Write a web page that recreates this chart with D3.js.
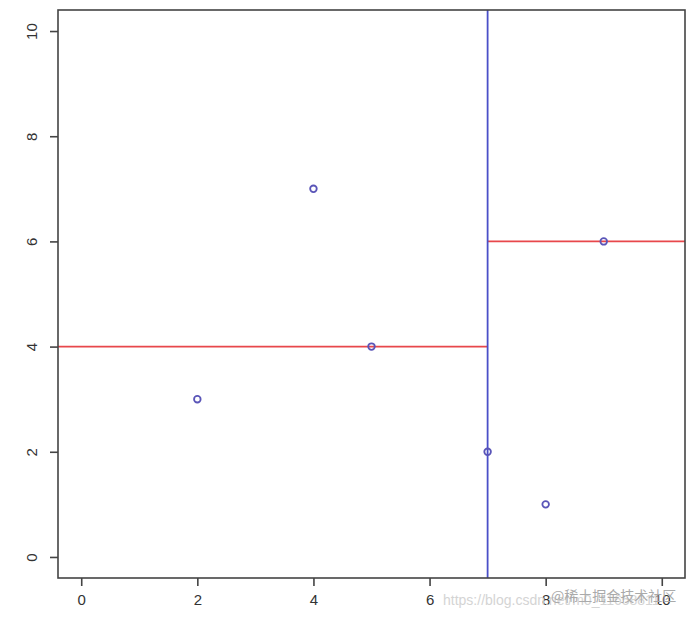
<!DOCTYPE html>
<html>
<head>
<meta charset="utf-8">
<script src="https://cdn.jsdelivr.net/npm/d3@7/dist/d3.min.js"></script>
<style>
  body { margin: 0; background: #fff; }
  svg { display: block; }
</style>
</head>
<body>
<div id="chart"></div>
<script>
// kd-tree points and splits
var pointsX = [2, 4, 5, 7, 8, 9];
var pointsY = [3, 7, 4, 2, 1, 6];
var xTicks = [0, 2, 4, 6, 8, 10];
var yTicks = [0, 2, 4, 6, 8, 10];
// split lines: [x1, x2, y1, y2]
var vSplitX = [7];
var hSplitY = [4, 6];
var hSplitFrom = [-0.4, 7];
var hSplitTo = [7, 10.4];

var width = 700, height = 621;
var svg = d3.select('#chart').append('svg')
  .attr('width', width)
  .attr('height', height);

var x = d3.scaleLinear().domain([-0.4, 10.4]).range([58, 685]);
var y = d3.scaleLinear().domain([-0.4, 10.4]).range([578, 10]);

var axisColor = '#444';

// horizontal splits (red)
svg.selectAll('line.hsplit')
  .data(hSplitY)
  .enter().append('line')
  .attr('class', 'hsplit')
  .attr('x1', function (d, i) { return x(hSplitFrom[i]); })
  .attr('x2', function (d, i) { return x(hSplitTo[i]); })
  .attr('y1', function (d) { return y(d); })
  .attr('y2', function (d) { return y(d); })
  .attr('stroke', '#e8474b')
  .attr('stroke-width', 1.8);

// vertical split (blue)
svg.selectAll('line.vsplit')
  .data(vSplitX)
  .enter().append('line')
  .attr('class', 'vsplit')
  .attr('x1', function (d) { return x(d); })
  .attr('x2', function (d) { return x(d); })
  .attr('y1', y(10.4))
  .attr('y2', y(-0.4))
  .attr('stroke', '#4a4fc8')
  .attr('stroke-width', 1.8);

// points
svg.selectAll('circle.pt')
  .data(pointsX)
  .enter().append('circle')
  .attr('class', 'pt')
  .attr('cx', function (d) { return x(d); })
  .attr('cy', function (d, i) { return y(pointsY[i]); })
  .attr('r', 3.3)
  .attr('fill', 'none')
  .attr('stroke', '#5a55b8')
  .attr('stroke-width', 1.8);

// box
svg.append('rect')
  .attr('x', x(-0.4))
  .attr('y', y(10.4))
  .attr('width', x(10.4) - x(-0.4))
  .attr('height', y(-0.4) - y(10.4))
  .attr('fill', 'none')
  .attr('stroke', axisColor)
  .attr('stroke-width', 1.6);

// x axis
var xAxis = svg.append('g')
  .attr('transform', 'translate(0,' + y(-0.4) + ')')
  .call(d3.axisBottom(x).tickValues(xTicks).tickSize(8).tickPadding(8).tickFormat(d3.format('d')));
xAxis.select('.domain').remove();
xAxis.selectAll('line').attr('stroke', axisColor).attr('stroke-width', 1.6);
xAxis.selectAll('text')
  .attr('fill', '#333')
  .style('font-family', 'Liberation Sans, Arial, sans-serif')
  .style('font-size', '15px');

// y axis
var yAxis = svg.append('g')
  .attr('transform', 'translate(' + x(-0.4) + ',0)')
  .call(d3.axisLeft(y).tickValues(yTicks).tickSize(8).tickFormat(d3.format('d')));
yAxis.select('.domain').remove();
yAxis.selectAll('line').attr('stroke', axisColor).attr('stroke-width', 1.6);
yAxis.selectAll('text')
  .attr('fill', '#333')
  .attr('x', 0).attr('dy', 0)
  .attr('text-anchor', 'middle')
  .attr('transform', 'translate(-26,0) rotate(-90)')
  .attr('dy', '0.35em')
  .style('font-family', 'Liberation Sans, Arial, sans-serif')
  .style('font-size', '15px');

// watermarks
svg.append('text')
  .attr('x', 443).attr('y', 605)
  .attr('fill', '#d4d4d4')
  .style('font-family', 'Liberation Sans, Arial, sans-serif')
  .style('font-size', '14px')
  .text('https://blog.csdn.net/m0_11658811');
svg.append('text')
  .attr('x', 551).attr('y', 601)
  .attr('fill', '#aaa')
  .style('font-family', 'Noto Sans CJK SC, sans-serif')
  .style('font-size', '14px')
  .text('@稀土掘金技术社区');
</script>
</body>
</html>
